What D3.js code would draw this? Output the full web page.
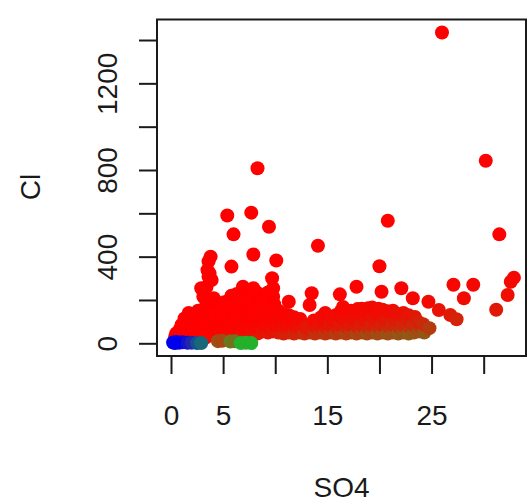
<!DOCTYPE html>
<html>
<head>
<meta charset="utf-8">
<script src="https://cdn.jsdelivr.net/npm/d3@7"></script>
<style>
  html, body { margin: 0; padding: 0; background: #fff; }
  svg { display: block; }
</style>
</head>
<body>
<div id="chart"></div>
<script>
// SO4 (x) and Cl (y) readings
const so4 = [
  0.4, 0.5,
  0.9, 0.8, 1.0,
  1.3, 1.4, 1.2, 1.3,
  1.8, 1.7, 1.9, 1.8, 1.7,
  2.3, 2.4, 2.2, 2.3, 2.4,
  2.8, 2.7, 2.9, 2.8, 2.6,
  3.3, 3.2, 3.4, 3.3, 3.2, 3.4,
  3.8, 3.9, 3.7, 3.8, 3.9,
  4.3, 4.2, 4.4, 4.3, 4.2, 4.5,
  4.8, 4.9, 4.7, 4.8, 4.9,
  5.3, 5.2, 5.4, 5.3, 5.2, 5.1,
  5.8, 5.9, 5.7, 5.8, 5.9, 5.6, 5.8,
  6.3, 6.2, 6.4, 6.3, 6.2, 6.4, 6.3,
  6.8, 6.9, 6.7, 6.8, 6.9, 6.7, 6.9,
  7.3, 7.2, 7.4, 7.3, 7.2, 7.4, 7.3, 7.4,
  7.8, 7.9, 7.7, 7.8, 7.9, 7.7, 7.8,
  8.3, 8.2, 8.4, 8.3, 8.2, 8.4, 8.3,
  8.8, 8.9, 8.7, 8.8, 8.9, 8.7,
  9.3, 9.2, 9.4, 9.3, 9.2, 9.4, 9.3,
  9.8, 9.9, 9.7, 9.8, 9.9, 9.8,
  10.3, 10.2, 10.4, 10.3,
  10.8, 10.9, 10.7, 10.8,
  11.3, 11.2, 11.4, 11.3,
  11.8, 11.9, 11.7, 11.8,
  12.3, 12.2, 12.4,
  12.8, 12.9,
  13.3, 13.2,
  13.8, 13.9, 13.7,
  14.3, 14.2, 14.4,
  14.8, 14.9, 14.7, 14.8,
  15.3, 15.2, 15.4,
  15.8, 15.9, 15.7, 15.8,
  16.3, 16.2, 16.4, 16.3,
  16.8, 16.9, 16.7, 16.8,
  17.3, 17.2, 17.4, 17.3,
  17.8, 17.9, 17.7, 17.8, 17.9,
  18.3, 18.2, 18.4, 18.3,
  18.8, 18.9, 18.7, 18.8, 18.9,
  19.3, 19.2, 19.4, 19.3,
  19.8, 19.9, 19.7, 19.8, 19.9,
  20.3, 20.2, 20.4, 20.3,
  20.8, 20.9, 20.7, 20.8,
  21.3, 21.2, 21.4, 21.3,
  21.8, 21.9, 21.7, 21.8,
  22.3, 22.2, 22.4, 22.3,
  22.8, 22.9, 22.7, 22.8,
  23.3, 23.2, 23.4,
  23.8, 23.9, 23.7,
  24.3, 24.2,
  24.8,
  26.0, 8.3, 30.2, 20.8, 14.1, 31.5, 5.4, 7.7, 9.4, 6.0, 3.8, 3.6, 7.9, 10.1, 5.8, 20.0,
  3.7, 9.7, 2.9, 3.9, 6.9, 7.9, 9.8, 13.5, 13.3, 16.2, 17.8, 20.2, 22.1, 23.2,
  24.7, 25.7, 26.8, 27.4, 27.1, 28.1, 29.0, 31.2, 32.3, 32.6, 32.9, 4.1, 11.3, 16.5,
  3.5, 3.6, 3.1, 3.4,
  0.2, 0.5, 0.8, 1.1, 0.4, 1.6, 2.0, 2.5, 2.9,
  4.5, 4.9, 5.7, 6.1, 6.7, 7.2, 7.7
];
const cl = [
  30, 45,
  35, 60, 85,
  30, 55, 85, 115,
  30, 50, 80, 110, 140,
  25, 45, 75, 105, 135,
  30, 60, 90, 120, 150,
  25, 55, 85, 115, 145, 180,
  40, 70, 100, 130, 160,
  35, 65, 95, 125, 155, 180,
  45, 75, 105, 135, 165,
  40, 70, 100, 130, 160, 190,
  45, 75, 105, 135, 165, 200, 220,
  40, 70, 100, 130, 160, 190, 228,
  45, 75, 105, 135, 165, 195, 240,
  40, 70, 100, 130, 160, 190, 220, 245,
  50, 80, 110, 140, 170, 200, 235,
  45, 75, 105, 135, 165, 195, 232,
  55, 85, 115, 145, 175, 215,
  50, 80, 110, 140, 170, 200, 235,
  55, 85, 115, 145, 180, 215,
  50, 80, 110, 150,
  45, 75, 105, 135,
  50, 80, 110, 130,
  45, 75, 105, 120,
  50, 80, 112,
  45, 75,
  50, 68,
  45, 75, 105,
  50, 85, 120,
  45, 75, 105, 140,
  50, 85, 120,
  45, 75, 105, 130,
  50, 85, 120, 148,
  45, 75, 105, 138,
  50, 85, 120, 150,
  45, 75, 105, 135, 158,
  50, 85, 120, 160,
  45, 75, 105, 135, 162,
  50, 85, 120, 165,
  45, 75, 105, 135, 160,
  50, 85, 120, 155,
  45, 75, 105, 148,
  50, 85, 120, 150,
  45, 75, 105, 135,
  50, 85, 120, 140,
  45, 75, 105, 130,
  50, 85, 122,
  55, 80, 100,
  50, 88,
  70,
  1435, 808, 843, 566, 450, 503, 590, 603, 538, 503, 400, 378, 410, 382, 354, 356,
  323, 300, 254, 292, 261, 254, 254, 231, 177, 226, 261, 238, 254, 208,
  192, 154, 131, 111, 270, 208, 270, 155, 223, 284, 303, 208, 192, 168,
  338, 307, 215, 260,
  4, 6, 3, 5, 1, 2, 3, 1, 1,
  10, 12, 8, 9, 1, 2, 1
];

const xTicks = [0, 5, 10, 15, 20, 25, 30];
const xLabels = [0, 5, 15, 25];
const yTicks = [0, 200, 400, 600, 800, 1000, 1200, 1400];
const yLabels = [0, 400, 800, 1200];

const width = 528, height = 501;
const box = { left: 157, top: 19.5, right: 526, bottom: 356 };
const font = "'Liberation Sans', Arial, Helvetica, sans-serif";
const ink = "#1a1a1a";

const svg = d3.select("#chart").append("svg")
  .attr("width", width)
  .attr("height", height);

const x = d3.scaleLinear().domain([-1.343, 34.06]).range([box.left, box.right]);
const y = d3.scaleLinear().domain([-58.6, 1494.7]).range([box.bottom, box.top]);

// colour: green -> red by Cl/SO4 ratio, blue for the very low readings
const ratioMix = d3.interpolateRgb("#22b22c", "#ff0000");
function colour(s, c) {
  const r = c / Math.max(s, 0.01);
  const t = (r * r) / (r * r + 4);
  const w = Math.min(1, 1.5 * Math.max(0, 1 - s / 4) * Math.max(0, 1 - c / 30));
  return d3.interpolateRgb(ratioMix(t), "#0000ee")(w);
}

const n = Math.min(so4.length, cl.length);
const pts = d3.range(n).map(i => ({ s: so4[i], c: cl[i] }));

// points
svg.append("g")
  .selectAll("circle")
  .data(pts)
  .enter()
  .append("circle")
  .attr("cx", d => x(d.s))
  .attr("cy", d => y(d.c))
  .attr("r", 7)
  .attr("fill", d => colour(d.s, d.c));

// box
svg.append("rect")
  .attr("x", box.left)
  .attr("y", box.top)
  .attr("width", box.right - box.left)
  .attr("height", box.bottom - box.top)
  .attr("fill", "none")
  .attr("stroke", ink)
  .attr("stroke-width", 2);

// X axis
const gx = svg.append("g")
  .attr("transform", `translate(0,${box.bottom})`)
  .call(d3.axisBottom(x)
    .tickValues(xTicks)
    .tickSize(18)
    .tickFormat(v => xLabels.includes(v) ? v : ""));
gx.select(".domain").remove();
gx.selectAll(".tick line").attr("stroke", ink).attr("stroke-width", 2);
gx.selectAll(".tick text")
  .attr("y", 69)
  .attr("dy", 0)
  .attr("fill", ink)
  .style("font-family", font)
  .style("font-size", "28px");

// Y axis
const gy = svg.append("g")
  .attr("transform", `translate(${box.left},0)`)
  .call(d3.axisLeft(y)
    .tickValues(yTicks)
    .tickSize(18)
    .tickFormat(v => yLabels.includes(v) ? v : ""));
gy.select(".domain").remove();
gy.selectAll(".tick line").attr("stroke", ink).attr("stroke-width", 2);
gy.selectAll(".tick text")
  .attr("x", 0)
  .attr("y", -40)
  .attr("dy", 0)
  .attr("transform", "rotate(-90)")
  .attr("text-anchor", "middle")
  .attr("fill", ink)
  .style("font-family", font)
  .style("font-size", "28px");

// axis titles
svg.append("text")
  .attr("x", (box.left + box.right) / 2)
  .attr("y", 496.5)
  .attr("text-anchor", "middle")
  .attr("fill", ink)
  .style("font-family", font)
  .style("font-size", "28px")
  .text("SO4");

svg.append("text")
  .attr("transform", "translate(40,187) rotate(-90)")
  .attr("text-anchor", "middle")
  .attr("fill", ink)
  .style("font-family", font)
  .style("font-size", "28px")
  .text("Cl");
</script>
</body>
</html>
